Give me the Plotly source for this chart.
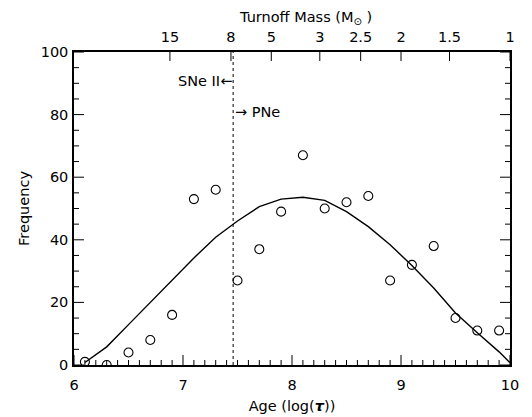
import plotly.graph_objects as go

# Observed histogram points (log age, frequency)
age_points = [6.1, 6.3, 6.5, 6.7, 6.9, 7.1, 7.3, 7.5, 7.7, 7.9,
              8.1, 8.3, 8.5, 8.7, 8.9, 9.1, 9.3, 9.5, 9.7, 9.9]
freq_points = [1, 0, 4, 8, 16, 53, 56, 27, 37, 49,
               67, 50, 52, 54, 27, 32, 38, 15, 11, 11]

# Model curve
age_curve = [6.1, 6.3, 6.5, 6.7, 6.9, 7.1, 7.3, 7.5, 7.7, 7.9,
             8.1, 8.3, 8.5, 8.7, 8.9, 9.1, 9.3, 9.5, 9.7, 9.9, 10.0]
freq_curve = [0.8, 5.8, 12.9, 20.0, 27.4, 34.2, 40.8, 46.0, 50.6, 53.0,
              53.6, 52.6, 49.0, 44.2, 38.4, 31.8, 24.6, 16.6, 10.3, 4.2, 0.7]

# Axis ticks
age_ticks = [6, 7, 8, 9, 10]
age_minor_step = 0.1
freq_ticks = [0, 20, 40, 60, 80, 100]
freq_minor_step = 5
# Top axis: turnoff mass labels at log-age positions
mass_tick_pos = [6.88, 7.44, 7.81, 8.255, 8.63, 9.0, 9.445, 10.0]
mass_tick_text = ["15", "8", "5", "3", "2.5", "2", "1.5", "1"]

divide_age = 7.46

X_RANGE = [6, 10]
Y_RANGE = [0, 100]
PLOT_W, PLOT_H = 436, 313          # plot area in px (from margins below)
MAJOR_PX, MINOR_PX, TOP_PX = 10, 5, 9

FS = 14.5
FONT = dict(family="DejaVu Sans, Liberation Sans, sans-serif", size=FS, color="black")
CLEAR = "rgba(0,0,0,0)"
NB = "\u00a0"
TICK = dict(color="black", width=1)

xu = (X_RANGE[1] - X_RANGE[0]) / PLOT_W   # data units per pixel
yu = (Y_RANGE[1] - Y_RANGE[0]) / PLOT_H

fig = go.Figure()
fig.add_trace(go.Scatter(x=age_curve, y=freq_curve, mode="lines",
                         line=dict(color="black", width=1.4), showlegend=False))
fig.add_trace(go.Scatter(x=age_points, y=freq_points, mode="markers",
                         marker=dict(symbol="circle-open", size=9,
                                     color="black", line=dict(width=1.1)),
                         showlegend=False))
# empty trace that activates the top axis
fig.add_trace(go.Scatter(x=[None], y=[None], xaxis="x2", yaxis="y",
                         mode="markers", showlegend=False, hoverinfo="skip"))

# --- inward-pointing tick marks, placed through the axis scales ---
n_age_minor = int(round((age_ticks[-1] - age_ticks[0]) / age_minor_step))
age_minor = [round(age_ticks[0] + i * age_minor_step, 6) for i in range(n_age_minor + 1)]
for v in age_minor:
    ln = MAJOR_PX if any(abs(v - t) < 1e-6 for t in age_ticks) else MINOR_PX
    fig.add_shape(type="line", xref="x", yref="y", x0=v, x1=v,
                  y0=Y_RANGE[0], y1=Y_RANGE[0] + ln * yu, line=TICK)
for v in mass_tick_pos:
    fig.add_shape(type="line", xref="x", yref="y", x0=v, x1=v,
                  y0=Y_RANGE[1], y1=Y_RANGE[1] - TOP_PX * yu, line=TICK)
n_freq_minor = int(round((freq_ticks[-1] - freq_ticks[0]) / freq_minor_step))
freq_minor = [freq_ticks[0] + i * freq_minor_step for i in range(n_freq_minor + 1)]
for v in freq_minor:
    ln = MAJOR_PX if v in freq_ticks else MINOR_PX
    fig.add_shape(type="line", xref="x", yref="y", y0=v, y1=v,
                  x0=X_RANGE[0], x1=X_RANGE[0] + ln * xu, line=TICK)
    fig.add_shape(type="line", xref="x", yref="y", y0=v, y1=v,
                  x0=X_RANGE[1], x1=X_RANGE[1] - ln * xu, line=TICK)

fig.add_shape(type="line", x0=divide_age, x1=divide_age, y0=Y_RANGE[0], y1=Y_RANGE[1],
              xref="x", yref="y", line=dict(color="black", width=1, dash="dot"))

fig.add_annotation(x=divide_age, y=90.8, text="SNe" + NB + "II←", showarrow=False,
                   xanchor="right", yanchor="middle", font=FONT, xshift=1)
fig.add_annotation(x=divide_age, y=80.7, text="→ PNe", showarrow=False,
                   xanchor="left", yanchor="middle", font=FONT, xshift=0)
# top axis title (slightly right of centre as in the original)
fig.add_annotation(xref="paper", yref="paper", x=0.53, y=1.108,
                   text="Turnoff Mass (M<sub>⊙</sub>" + NB + ")", showarrow=False,
                   xanchor="center", yanchor="middle", font=FONT)

common = dict(showgrid=False, zeroline=False, automargin=False)

fig.update_layout(
    width=524, height=409,
    margin=dict(l=66, r=22, t=44, b=52),
    paper_bgcolor="white", plot_bgcolor="white",
    font=FONT,
    xaxis=dict(range=X_RANGE, tickvals=age_ticks,
               ticks="outside", ticklen=6, tickcolor=CLEAR,
               showline=True, linecolor="black", linewidth=1.5,
               tickfont=dict(size=FS),
               title=dict(text="Age" + NB + "(log(<b><i>τ</i></b>))", standoff=9,
                          font=dict(size=FS)), **common),
    xaxis2=dict(range=X_RANGE, overlaying="x", side="top", anchor="y",
                tickvals=mass_tick_pos, ticktext=mass_tick_text,
                ticks="outside", ticklen=2, tickcolor=CLEAR,
                showline=True, linecolor="black", linewidth=1.5,
                tickfont=dict(size=FS), **common),
    yaxis=dict(range=Y_RANGE, tickvals=freq_ticks,
               ticks="outside", ticklen=1, tickcolor=CLEAR,
               showline=True, linecolor="black", linewidth=1.5, mirror=True,
               tickfont=dict(size=FS),
               title=dict(text="Frequency", standoff=8, font=dict(size=FS)),
               **common),
)

fig.write_html("out.html")
